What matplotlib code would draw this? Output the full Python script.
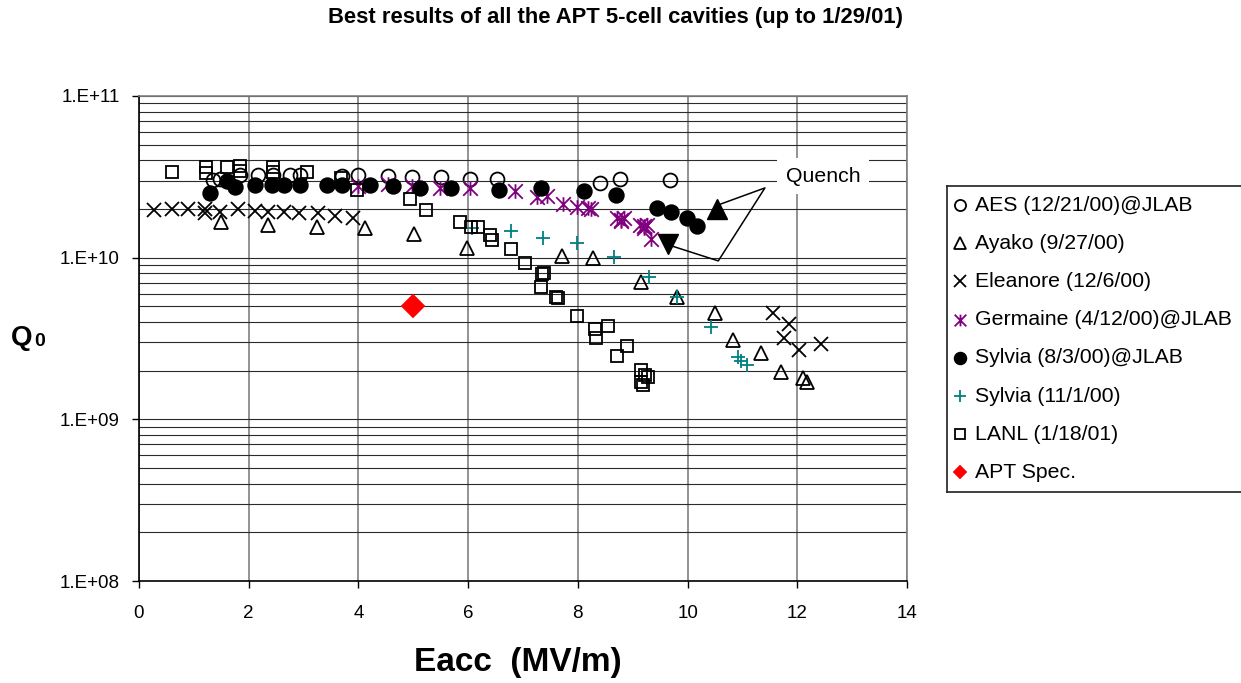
"""Q0 vs Eacc for the APT 5-cell cavities"""

import math

import matplotlib

matplotlib.use("Agg")
import matplotlib.pyplot as plt
from matplotlib.path import Path
from matplotlib.ticker import FixedLocator, FuncFormatter, LogLocator, NullFormatter

plt.rcParams["font.family"] = ["Liberation Sans", "DejaVu Sans"]

# ---- data (Eacc in MV/m, Q0) ----
aes_x = [1.35, 1.48, 1.84, 2.17, 2.44, 2.75, 2.94, 3.70, 4.00, 4.54, 4.98, 5.51,
         6.03, 6.53, 8.40, 8.77, 9.68]
aes_q = [3.02e10, 3.07e10, 3.25e10, 3.25e10, 3.25e10, 3.25e10, 3.25e10, 3.20e10,
         3.25e10, 3.20e10, 3.16e10, 3.16e10, 3.07e10, 3.07e10, 2.90e10, 3.07e10,
         3.02e10]

ayako_x = [1.49, 2.35, 3.24, 4.12, 5.01, 5.98, 7.71, 8.28, 9.15, 9.81, 10.50,
           10.83, 11.34, 11.70, 12.10, 12.18]
ayako_q = [1.66e10, 1.59e10, 1.55e10, 1.53e10, 1.40e10, 1.15e10, 1.03e10, 9.96e9,
           7.08e9, 5.72e9, 4.55e9, 3.10e9, 2.58e9, 1.96e9, 1.80e9, 1.70e9]

eleanore_x = [0.27, 0.61, 0.90, 1.20, 1.20, 1.48, 1.81, 2.11, 2.36, 2.64, 2.92,
              3.27, 3.57, 3.90, 11.56, 11.76, 11.85, 12.03, 12.43]
eleanore_q = [1.97e10, 1.99e10, 1.99e10, 1.99e10, 1.88e10, 1.92e10, 1.99e10,
              1.95e10, 1.92e10, 1.92e10, 1.88e10, 1.88e10, 1.80e10, 1.75e10,
              4.55e9, 3.19e9, 3.89e9, 2.69e9, 2.93e9]

germaine_x = [3.99, 4.54, 4.98, 5.49, 6.03, 6.85, 7.25, 7.44, 7.73, 7.98, 8.18,
              8.24, 8.72, 8.78, 8.84, 8.78, 9.13, 9.20, 9.26, 9.20, 9.33]
germaine_q = [2.77e10, 2.86e10, 2.77e10, 2.70e10, 2.70e10, 2.58e10, 2.37e10,
              2.41e10, 2.15e10, 2.06e10, 2.03e10, 2.00e10, 1.76e10, 1.72e10,
              1.76e10, 1.69e10, 1.60e10, 1.56e10, 1.59e10, 1.53e10, 1.31e10]

sylvia_jlab_x = [1.29, 1.60, 1.75, 2.11, 2.42, 2.64, 2.93, 3.43, 3.70, 4.21, 4.63,
                 5.12, 5.69, 6.56, 7.33, 8.11, 8.69, 9.44, 9.70, 9.99, 10.17]
sylvia_jlab_q = [2.51e10, 2.98e10, 2.74e10, 2.82e10, 2.82e10, 2.82e10, 2.82e10,
                 2.82e10, 2.82e10, 2.82e10, 2.77e10, 2.70e10, 2.70e10, 2.63e10,
                 2.70e10, 2.58e10, 2.44e10, 2.02e10, 1.92e10, 1.77e10, 1.57e10]

sylvia_x = [6.07, 6.78, 7.36, 7.98, 8.66, 9.30, 9.81, 10.43, 10.92, 10.98, 11.08]
sylvia_q = [1.53e10, 1.46e10, 1.32e10, 1.23e10, 1.01e10, 7.60e9, 5.72e9, 3.73e9,
            2.42e9, 2.30e9, 2.17e9]

lanl_x = [0.61, 1.23, 1.23, 1.60, 1.84, 1.84, 2.44, 2.44, 3.06, 3.69, 3.97, 4.94,
          5.24, 5.85, 6.06, 6.18, 6.40, 6.43, 6.78, 7.04, 7.34, 7.38, 7.33, 7.61,
          7.64, 7.98, 8.31, 8.33, 8.55, 8.89, 8.71, 9.15, 9.22, 9.28, 9.16, 9.18]
lanl_q = [3.40e10, 3.62e10, 3.36e10, 3.62e10, 3.69e10, 3.45e10, 3.62e10, 3.40e10,
          3.40e10, 3.10e10, 2.62e10, 2.30e10, 1.97e10, 1.67e10, 1.54e10, 1.55e10,
          1.38e10, 1.29e10, 1.13e10, 9.31e9, 7.89e9, 8.00e9, 6.62e9, 5.74e9,
          5.65e9, 4.37e9, 3.61e9, 3.18e9, 3.78e9, 2.85e9, 2.47e9, 2.02e9, 1.88e9,
          1.84e9, 1.71e9, 1.63e9]

spec_x = [5.0]
spec_q = [5.0e9]

# quench points and callout
quench_up = (10.53, 2.01e10)
quench_down = (9.65, 1.22e10)
callout_x = [10.56, 11.41, 10.56, 9.65]
callout_q = [2.12e10, 2.70e10, 9.55e9, 1.20e10]
quench_label_pos = (12.47, 3.2e10)

x_ticks = [0, 2, 4, 6, 8, 10, 12, 14]
y_ticks = [1e8, 1e9, 1e10, 1e11]

PURPLE = "#800080"
TEAL = "#008080"
RED = "#FF0000"

# X with a vertical bar, like the spreadsheet "*" marker
ASTERISK = Path(
    [(-1, -1), (1, 1), (-1, 1), (1, -1), (0, -1), (0, 1)],
    [Path.MOVETO, Path.LINETO] * 3,
)

# label, x, y, marker, size, face, edge
SERIES = [
    ("AES (12/21/00)@JLAB", aes_x, aes_q, "o", 10, "none", "black"),
    ("Ayako (9/27/00)", ayako_x, ayako_q, "^", 10, "none", "black"),
    ("Eleanore (12/6/00)", eleanore_x, eleanore_q, "x", 10, "none", "black"),
    ("Germaine (4/12/00)@JLAB", germaine_x, germaine_q, ASTERISK, 10.5, "none", PURPLE),
    ("Sylvia (8/3/00)@JLAB", sylvia_jlab_x, sylvia_jlab_q, "o", 10.5, "black", "black"),
    ("Sylvia (11/1/00)", sylvia_x, sylvia_q, "+", 10.5, "none", TEAL),
    ("LANL (1/18/01)", lanl_x, lanl_q, "s", 9, "none", "black"),
    ("APT Spec.", spec_x, spec_q, "D", 11, RED, RED),
]

W, H = 1241, 683


def px_rect(left, top, right, bottom):
    """Figure-fraction rectangle from pixel edges"""
    return [left / W, 1 - bottom / H, (right - left) / W, (bottom - top) / H]


def sci_label(value, pos):
    """Spreadsheet-style tick label, e.g. 1.E+10"""
    return f"1.E+{int(round(math.log10(value))):02d}"


fig = plt.figure(figsize=(W / 100, H / 100), dpi=100)
ax = fig.add_axes(px_rect(139, 96, 907, 581))

for label, x, q, marker, ms, face, edge in SERIES:
    ax.plot(x, q, linestyle="none", marker=marker, markersize=ms,
            markerfacecolor=face, markeredgecolor=edge, markeredgewidth=1.3,
            zorder=3)

# quench markers and callout
ax.plot(*quench_up, marker="^", markersize=15, color="black", zorder=4)
ax.plot(*quench_down, marker="v", markersize=15, color="black", zorder=4)
ax.plot(callout_x, callout_q, color="black", linewidth=1.1, zorder=4)
ax.text(*quench_label_pos, "Quench", fontsize=15.3, ha="center", va="center",
        zorder=5, bbox={"boxstyle": "square,pad=0.4", "facecolor": "white",
                        "edgecolor": "none"})

# axes, ticks
ax.set_yscale("log")
ax.set_xlim(0, 14)
ax.set_ylim(1e8, 1e11)
ax.xaxis.set_major_locator(FixedLocator(x_ticks))
ax.yaxis.set_major_locator(FixedLocator(y_ticks))
ax.yaxis.set_minor_locator(LogLocator(base=10, subs=range(2, 10)))
ax.yaxis.set_minor_formatter(NullFormatter())
ax.yaxis.set_major_formatter(FuncFormatter(sci_label))
ax.tick_params(axis="both", which="major", direction="out", length=5,
               width=1, labelsize=13.5, color="black")
ax.tick_params(axis="y", which="major", pad=9)
ax.tick_params(axis="x", which="major", pad=12)
ax.tick_params(axis="y", which="minor", length=0)

# gridlines
ax.set_axisbelow(True)
ax.grid(which="both", axis="y", color="#2b2b2b", linewidth=0.8)
ax.grid(which="major", axis="x", color="#808080", linewidth=1.2)

for side in ("top", "right"):
    ax.spines[side].set_color("#808080")
    ax.spines[side].set_linewidth(1.2)
for side in ("left", "bottom"):
    ax.spines[side].set_color("black")
    ax.spines[side].set_linewidth(1.2)

# titles and axis labels
fig.text(616 / W, 1 - 18 / H,
         "Best results of all the APT 5-cell cavities (up to 1/29/01)",
         fontsize=15.8, fontweight="bold", ha="center", va="center")
fig.text(518 / W, 1 - 663 / H, "Eacc  (MV/m)", fontsize=24,
         fontweight="bold", ha="center", va="center")
fig.text(11 / W, 1 - 338 / H, "Q", fontsize=20, fontweight="bold",
         ha="left", va="center")
fig.text(34 / W, 1 - 342 / H, "0", fontsize=14, fontweight="bold",
         ha="left", va="center")

# legend drawn by hand so the box can run off the right edge
leg = fig.add_axes(px_rect(947, 186, 1260, 492))
leg.set_xlim(0, 313)
leg.set_ylim(306, 0)
leg.set_xticks([])
leg.set_yticks([])
leg.spines["right"].set_visible(False)
for side in ("left", "top", "bottom"):
    leg.spines[side].set_color("#202020")
    leg.spines[side].set_linewidth(1.2)

row_y = 19
for label, x, q, marker, ms, face, edge in SERIES:
    leg_ms = 6.5 if marker == "D" else ms * 0.8
    leg.plot([13], [row_y], linestyle="none", marker=marker, markersize=leg_ms,
             markerfacecolor=face, markeredgecolor=edge, markeredgewidth=1.3,
             clip_on=False)
    leg.text(28, row_y, label, fontsize=15.3, ha="left", va="center")
    row_y += 38.2

fig.savefig("out.png", dpi=100)
